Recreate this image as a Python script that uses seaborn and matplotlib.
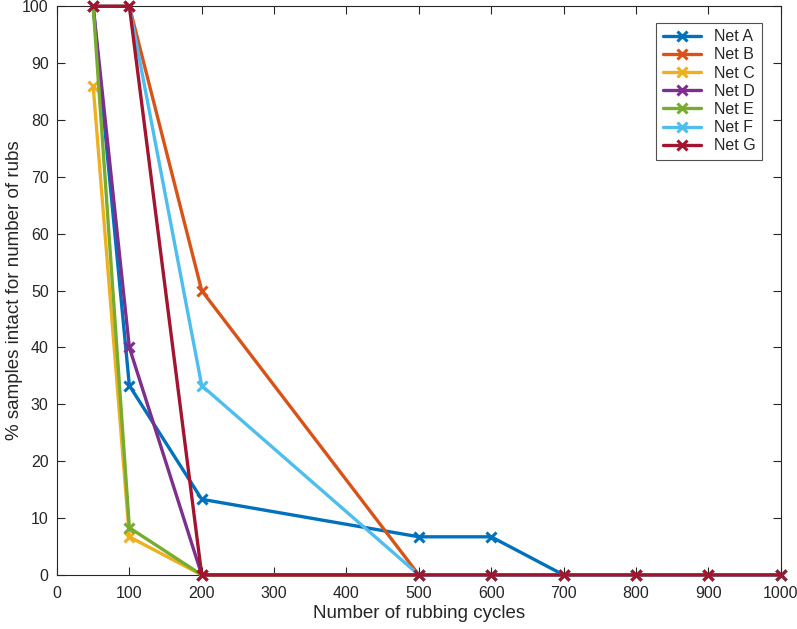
import numpy as np
import pandas as pd
import matplotlib
matplotlib.use("Agg")
import matplotlib.pyplot as plt
import seaborn as sns

# Data
cycles = [50, 100, 200, 500, 600, 700, 800, 900, 1000]
net_names = ["Net A", "Net B", "Net C", "Net D", "Net E", "Net F", "Net G"]
net_a = [100, 33.3, 13.3, 6.7, 6.7, 0, 0, 0, 0]
net_b = [100, 100, 50, 0, 0, 0, 0, 0, 0]
net_c = [86, 6.7, 0, 0, 0, 0, 0, 0, 0]
net_d = [100, 40, 0, 0, 0, 0, 0, 0, 0]
net_e = [100, 8.3, 0, 0, 0, 0, 0, 0, 0]
net_f = [100, 100, 33.3, 0, 0, 0, 0, 0, 0]
net_g = [100, 100, 0, 0, 0, 0, 0, 0, 0]
net_values = [net_a, net_b, net_c, net_d, net_e, net_f, net_g]

# MATLAB default colour order
colors = ["#0072BD", "#D95319", "#EDB120", "#7E2F8E", "#77AC30", "#4DBEEE", "#A2142F"]

rows = []
for name, vals in zip(net_names, net_values):
    for c, v in zip(cycles, vals):
        rows.append({"cycles": c, "intact": v, "net": name})
df = pd.DataFrame(rows)

sns.set_style("ticks")
plt.rcParams['font.family'] = ['Liberation Sans', 'DejaVu Sans']

fig = plt.figure(figsize=(7.97, 6.29), dpi=100)
ax = fig.add_axes([0.0715, 0.086, 0.908, 0.904])

for name, color in zip(net_names, colors):
    sub = df[df["net"] == name]
    sns.lineplot(data=sub, x="cycles", y="intact", ax=ax, color=color,
                 marker="x", markersize=7, markeredgewidth=2.2,
                 markeredgecolor=color, markerfacecolor=color,
                 linewidth=2.4, label=name, clip_on=False, zorder=3)

ax.set_xlim(0, 1000)
ax.set_ylim(0, 100)
ax.set_xticks(np.arange(0, 1001, 100))
ax.set_yticks(np.arange(0, 101, 10))
ax.tick_params(direction="in", top=True, right=True, labelsize=11.5,
               length=6, width=0.8, color="#262626", labelcolor="#262626")
ax.tick_params(axis="x", pad=8)
ax.tick_params(axis="y", pad=6)
for sp in ax.spines.values():
    sp.set_visible(True)
    sp.set_linewidth(0.8)
    sp.set_color("#262626")

ax.set_xlabel("Number of rubbing cycles", fontsize=13.5, color="#262626", labelpad=3)
ax.set_ylabel("% samples intact for number of rubs", fontsize=13.5, color="#262626")
ax.yaxis.set_label_coords(-0.047, 0.5)

leg = ax.legend(loc="upper right", bbox_to_anchor=(0.985, 0.985), fontsize=11.5,
                frameon=True, fancybox=False, edgecolor="#262626",
                handlelength=2.4, labelspacing=0.2, borderpad=0.4)
leg.get_frame().set_linewidth(0.8)

fig.savefig("out.png", dpi=100)
